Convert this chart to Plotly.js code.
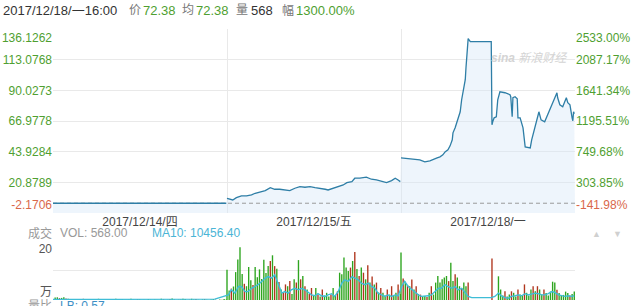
<!DOCTYPE html>
<html><head><meta charset="utf-8">
<script src="https://cdn.plot.ly/plotly-3.0.1.min.js"></script>
<style>html,body{margin:0;padding:0;background:#fff}#c{width:637px;height:306px}</style>
</head><body><div id="c"></div>
<script>
// ---------- data ----------
const dayStart = [0, 241, 482];
const dayCenters = [120.5, 361.5, 602.5];
const dayLabels = ['2017/12/14/四', '2017/12/15/五', '2017/12/18/一'];
const priceTicks = [136.1262, 113.0768, 90.0273, 66.9778, 43.9284, 20.8789, -2.1706];
const priceLabels = ['136.1262', '113.0768', '90.0273', '66.9778', '43.9284', '20.8789', '-2.1706'];
const pctLabels = ['2533.00%', '2087.17%', '1641.34%', '1195.51%', '749.68%', '303.85%', '-141.98%'];
const prevClose = 5.17;

const day1T = [0, 240];
const day1P = [5.17, 5.17];
const day2T = [241,245,249,254,261,268,275,280,287,294,301,307,314,321,328,335,342,349,356,363,370,377,381,388,395,402,407,414,418,425,434,441,448,455,462,469,474,478,481];
const day2P = [8.90,8.15,7.62,9.35,10.63,10.63,11.39,12.67,13.87,14.63,16.89,15.68,15.68,15.15,14.63,16.44,17.64,17.19,17.64,16.89,16.44,15.68,15.15,16.44,17.19,18.92,20.65,21.41,23.97,23.97,24.72,23.21,22.69,21.93,20.65,22.16,23.97,22.69,21.41];
const day3T = [482,494,508,515,522,532,536,540,543,547,550,553,554,557,560,564,566,569,571,572,573,574,575,576,578,607,608,609,611,614,616,619,626,633,634,636,637,640,643,644,647,651,654,661,663,665,668,670,672,673,676,681,684,688,691,697,698,699,702,706,711,713,716,719,720,721,722];
const day3P = [39.26,38.51,37.75,36.25,37.00,39.26,40.01,41.52,43.78,45.28,48.30,52.82,58.09,61.86,66.38,73.91,82.95,91.99,98.01,107.05,116.84,125.13,128.90,128.14,126.64,126.64,64.12,66.38,69.39,70.14,82.95,88.97,88.22,86.71,85.21,70.14,84.45,85.21,83.70,69.39,69.39,61.86,47.54,46.79,52.82,56.58,64.12,66.38,71.65,73.91,67.88,66.38,70.14,75.41,79.93,86.71,88.22,84.45,79.18,77.67,84.45,80.69,79.18,69.39,67.13,73.91,72.38];

// volume (万), one bar per 3 minutes, G = down(green) R = up(red)
const vol1 = [0.3,0.8,0.9,0.6,0.7,0.9,0.5,0.4,0.3,0.2,0.1,0.3,0,0.2,0.4,0.1,0,0.3,0.2,0,0.1,0.4,0.2,0,0,0.3,0.1,0,0.2,0.4,0,0.1,0.3,0,0,0.2,0.4,0.1,0,0.3,0.2,0,0.1,0,0.3,0.1,0,0.2,0.1,0,0.4,0.2,0,0.1,0.3,0.5,0.2,0,0.1,0.2,0.4,0.3,0,0.1,0.4,0.2,0.3,0.1,0,0.2,0.3,0.1,0,0.2,0.3,0.1,0,0.2,0.1,0.3,0.2];
const dir1 = 'GGGRGGRGGGRGGGRGGGGRGGRGGGGRGGRGGGRGGGGRGGRGGGRGGGGRGGRGGGRGGGGRGGRGGGRGGGGRGGRGG';
const vol2 = [10.1,3.2,3.8,4.5,9.3,13.5,17.6,8.7,5.4,4.6,
  11,6.6,5.0,11,7.6,10.2,7.0,13.4,9.0,11.3,
  13,14.9,11.3,10.4,6,3.5,2.5,5.2,4.6,6.3,
  2.0,6.9,5.8,13.3,6.9,8.0,4.6,3.5,2.0,4.0,
  1.5,4.0,1.8,1.2,3.5,1.5,2.4,1.2,1.8,4.0,
  1.5,2.9,9.1,8.6,14.2,10.8,9.7,10.8,13,16,
  10.3,8,10.8,9.1,6.9,11.6,5.8,7.8,5.2,5.8,
  2.5,4,2.4,1.5,3.5,1.8,4.6,1.5,2.4,5.2,
  2.0];
const dir2 = 'GGRGGGGGRG'+'GGRGGGGGGG'+'RGRGRGRRGR'+'GGRGRGRGRR'+'GGRGRGGGRG'+'GRGGGGGRGR'+'GRGRGRGRGR'+'GRGGRGRGGR'+'G';
const vol3 = [15.8,7.2,6.1,5.0,4.6,6.8,3.5,4.6,2.0,1.8,
  1.2,1.3,1.0,2.4,4.6,1.8,5.8,8,5.8,6.9,
  7.5,8,6.3,12.4,6.3,8.6,7.5,4.6,4,5.8,
  4.6,5.8,0,0,0,0,0,0,0,0,
  0,0,13.8,0,0,7.9,3.5,1.5,2.9,1.2,
  1.8,2.9,2.4,1.2,3.5,1.8,1.5,5.2,2.4,1.5,
  3.5,4.6,2.9,4.6,3.5,1.8,3.5,2.3,1.5,2.8,
  6.1,5.8,3.4,2.3,1.5,1.7,2.8,2.3,1.5,2.0,
  2.8];
const dir3 = 'GRGRGRGRGR'+'GGRGRGGGGG'+'GGRGGRGGRG'+'GRGGGGGGGG'+'GGRGGGGGRG'+'GRGGRGGRGG'+'GRGRGGRGGG'+'GGRGGGGGRG'+'G';

const maT = [0,120,224, 243,247,252,257,261, 266,270,275,280,284, 289,294,298,303,307, 312,317,321,326,330,
  335,340,344,349,354, 358,363,367,372,377, 381,386,390,395,400, 404,409,414,418,423, 427,432,437,441,446,
  450,455,460,464,469, 474,478,483,487,492, 497,501,506,510,515, 520,524,529,534,538, 543,547,552,557,561,
  566,570,575,580,607, 612,617,621,626,631, 635,640,645,649,654, 658,663,668,672,677, 681,686,691,695,700,
  704,709,714,718,722];
const maV = [0.2,0.2,0.3, 1.7,3.4,2.3,4.5,4.5, 2.8,2.8,3.9,4.5,5.1, 6.2,7.3,7.8,7.3,8.4, 5.1,2.3,2.8,2.3,3.4,
  3.9,3.4,3.9,3.4,2.5, 1.7,1.4,2.1,1.4,1.2, 1.7,2.1,1.2,2.8,5.6, 6.7,6.2,7.8,7.3,6.7, 5.6,5.1,5.6,4.5,3.9,
  2.3,1.7,1.2,1.7,1.2, 1.7,1.4,4.5,6.2,4.5, 3.4,2.8,1.7,1.2,1.2, 1.4,1.7,2.8,3.9,3.9, 5.1,4.5,3.9,4.5,3.4,
  3.9,2.8,1.2,0.8,0.8, 1.2,2.3,1.4,0.8,0.6, 1.2,1.4,1.7,1.4,2.1, 1.7,2.1,2.3,2.1,1.7, 1.7,2.1,2.8,2.5,1.7,
  1.4,1.2,1.4,1.2,1.4];

// ---------- build ----------
const GREEN = '#4f9f31', RED = '#d9674a', GRID = '#e9e9e9';
const BAR_G = '#2ea51f', BAR_R = '#b0361e';
const FONT = "Arial, 'Liberation Sans', 'Noto Sans CJK SC', sans-serif";
const yMin = priceTicks[priceTicks.length - 1], yMax = priceTicks[0];

const lineX = [...day1T, null, ...day2T, null, ...day3T];
const lineY = [...day1P, null, ...day2P, null, ...day3P];
const fillX = [...day1T, ...day2T, ...day3T];
const fillY = [...day1P, ...day2P, ...day3P];

const volX = [], volY = [], volC = [];
[[vol1, dir1], [vol2, dir2], [vol3, dir3]].forEach(([v, d], di) => {
  v.forEach((val, i) => { volX.push(dayStart[di] + 3 * i); volY.push(val); volC.push(d[i] === 'R' ? BAR_R : BAR_G); });
});

const traces = [
  {x: [0, 723], y: [yMin, yMin], mode: 'lines', line: {width: 0}, hoverinfo: 'skip', showlegend: false},
  {x: fillX, y: fillY, mode: 'lines', line: {width: 0}, fill: 'tonexty', fillcolor: 'rgba(214,232,247,0.42)', showlegend: false},
  {x: [0, 723], y: [prevClose, prevClose], mode: 'lines', line: {color: '#9a9a9a', width: 1, dash: '4px,3px'}, showlegend: false},
  {x: lineX, y: lineY, mode: 'lines', connectgaps: false, line: {color: '#2e7ea6', width: 1.3}, showlegend: false},
  {x: volX, y: volY, type: 'bar', width: 1.9, marker: {color: volC, line: {width: 0}}, xaxis: 'x2', yaxis: 'y7', showlegend: false},
  {x: maT, y: maV, mode: 'lines', line: {color: '#3fbdd6', width: 1.4}, xaxis: 'x2', yaxis: 'y7', showlegend: false},
  // empty traces to realize overlay axes
  {x: [], y: [], yaxis: 'y2'}, {x: [], y: [], yaxis: 'y3'}, {x: [], y: [], yaxis: 'y4'},
  {x: [], y: [], yaxis: 'y5'}, {x: [], y: [], yaxis: 'y6'},
  {x: [], y: [], xaxis: 'x2', yaxis: 'y8'}, {x: [], y: [], xaxis: 'x2', yaxis: 'y9'}
];

const L = 53, T = 29, B = 6, R = 62, W = 637, H = 306;
const PW = W - L - R, PH = H - T - B;
const px = x => (x - L) / PW;
const py = y => (H - B - y) / PH;
const mainDom = [py(213), 1];
const volDom = [0, py(240)];

const tf = (c, s) => ({family: FONT, size: s || 12, color: c});
const mid = a => a.slice(1, -1);
const baseY = {range: [yMin, yMax], fixedrange: true, zeroline: false, showgrid: false, ticks: '', showline: false};
function ov(over, side, vals, text, color, pos) {
  return Object.assign({}, baseY, {overlaying: over, anchor: over === 'y' ? 'x' : 'x2', side: side,
    tickmode: 'array', tickvals: vals, ticktext: text, tickfont: tf(color), ticklabelposition: pos});
}

const ann = [];
function A(text, x, y, color, size, anchor, extra) {
  ann.push(Object.assign({text: text, xref: 'paper', yref: 'paper', x: px(x), y: py(y), xanchor: anchor || 'left',
    yanchor: 'middle', showarrow: false, font: tf(color, size || 12), borderpad: 0}, extra || {}));
}
// header
const hdr = [['2017/12/18/一16:00', 2, '#333', 13], ['价', 128, '#777', 12], ['72.38', 142, GREEN, 13], ['均', 181, '#777', 12],
  ['72.38', 195, GREEN, 13], ['量', 235, '#777', 12], ['568', 250, '#333', 13], ['幅', 281, '#777', 12], ['1300.00%', 295, GREEN, 13]];
hdr.forEach(h => A(h[0], h[1], 10, h[2], h[3]));
// volume header
A('成交', 27, 233, '#999', 12); A('VOL: 568.00', 59, 233, '#999', 12); A('MA10: 10456.40', 151, 233, '#4bb5d6', 12);
A('▲', 596, 234, '#d0d0d0', 9, 'center'); A('▼', 617, 234, '#d0d0d0', 9, 'center');
A('量比', 27, 306, '#999', 12); A('LB: 0.57', 59, 306, '#3d8fc6', 12);
// watermark
A('<i><b>sina</b></i> <i>新浪财经</i>', 529, 58, '#d4d4d4', 12, 'center');

const layout = {
  width: W, height: H, margin: {l: L, r: R, t: T, b: B}, paper_bgcolor: '#fff', plot_bgcolor: '#fff',
  showlegend: false, hovermode: false, font: {family: FONT},
  xaxis: {domain: [0, 1], range: [0, 723], anchor: 'y', fixedrange: true, zeroline: false, showgrid: false, ticks: '',
    tickmode: 'array', tickvals: dayCenters, ticktext: dayLabels, tickfont: tf('#444', 12),
    minor: {tickmode: 'array', tickvals: [dayStart[1], dayStart[2]], showgrid: true, gridcolor: GRID, gridwidth: 1, ticks: ''}},
  yaxis: Object.assign({}, baseY, {domain: mainDom, anchor: 'x', showgrid: true, gridcolor: GRID, gridwidth: 1,
    tickmode: 'array', tickvals: priceTicks, ticktext: priceLabels.map((t, i) => (i === 0 || i === priceLabels.length - 1) ? '' : t),
    tickfont: tf(GREEN)}),
  yaxis2: ov('y', 'right', mid(priceTicks), mid(pctLabels), GREEN, 'outside'),
  yaxis3: ov('y', 'left', [priceTicks[0]], [priceLabels[0]], GREEN, 'outside bottom'),
  yaxis4: ov('y', 'left', [yMin], [priceLabels[6]], RED, 'outside top'),
  yaxis5: ov('y', 'right', [priceTicks[0]], [pctLabels[0]], GREEN, 'outside bottom'),
  yaxis6: ov('y', 'right', [yMin], [pctLabels[6]], RED, 'outside top'),
  xaxis2: {domain: [0, 1], range: [0, 723], anchor: 'y7', fixedrange: true, showticklabels: false, showgrid: false, zeroline: false, ticks: ''},
  yaxis7: {domain: volDom, anchor: 'x2', range: [0, 20], fixedrange: true, tickmode: 'array', tickvals: [0, 10, 20],
    showticklabels: false, showgrid: true, gridcolor: GRID, zeroline: false, ticks: ''},
  yaxis8: Object.assign({}, baseY, {overlaying: 'y7', anchor: 'x2', range: [0, 20], tickmode: 'array', tickvals: [20], ticktext: ['20'], tickfont: tf('#555'), ticklabelposition: 'outside bottom'}),
  yaxis9: Object.assign({}, baseY, {overlaying: 'y7', anchor: 'x2', range: [0, 20], tickmode: 'array', tickvals: [0], ticktext: ['万'], tickfont: tf('#555'), ticklabelposition: 'outside top'}),
  annotations: ann
};

Plotly.newPlot('c', traces, layout, {staticPlot: true, displayModeBar: false});
</script>
</body></html>
